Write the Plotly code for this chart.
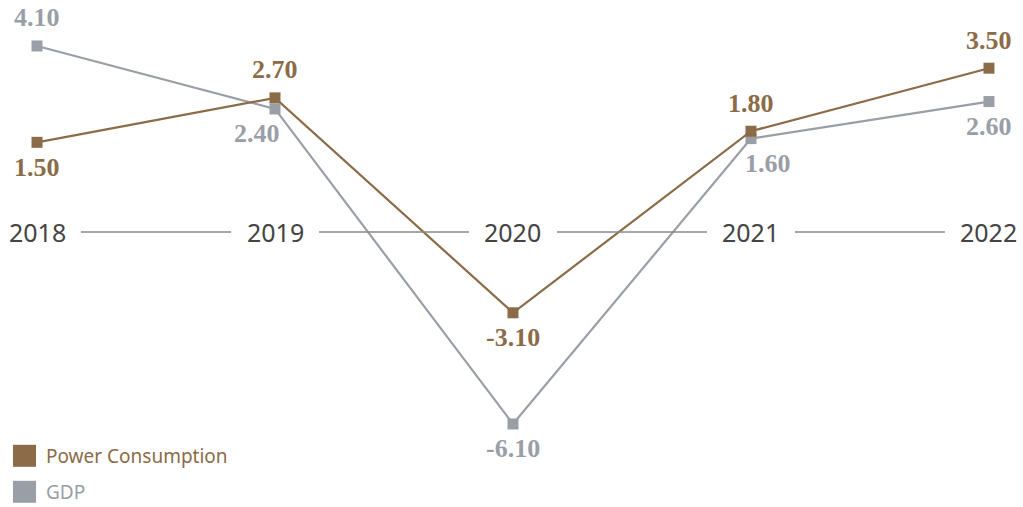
import plotly.graph_objects as go

years = ["2018", "2019", "2020", "2021", "2022"]
power = [1.50, 2.70, -3.10, 1.80, 3.50]
gdp = [4.10, 2.40, -6.10, 1.60, 2.60]

BROWN = "#8b6b48"
GRAY = "#9a9ea7"
AXIS_Y = -0.92  # height of the year row

# label placement per point: (xshift, yshift) in px
power_off = [(0, -25), (0, 28), (0, -25), (0, 28), (0, 28)]
gdp_off = [(0, 28), (-18, -25), (0, -25), (17, -25), (0, -25)]

xi = list(range(len(years)))

fig = go.Figure()
fig.add_trace(go.Scatter(
    x=xi, y=gdp, mode="lines+markers", name="GDP",
    line=dict(color=GRAY, width=2.2),
    marker=dict(symbol="square", size=11, color=GRAY),
    hoverinfo="skip",
))
fig.add_trace(go.Scatter(
    x=xi, y=power, mode="lines+markers", name="Power Consumption",
    line=dict(color=BROWN, width=2.2),
    marker=dict(symbol="square", size=11, color=BROWN),
    hoverinfo="skip",
))

annotations = []
for series, offs, col in ((power, power_off, BROWN), (gdp, gdp_off, GRAY)):
    for i, (v, (dx, dy)) in enumerate(zip(series, offs)):
        annotations.append(dict(
            x=i, y=v, xref="x", yref="y", text=f"{v:.2f}", showarrow=False,
            xshift=dx, yshift=dy,
            font=dict(family="Liberation Serif", size=26, color=col, weight="bold"),
        ))

# year labels along the category row
for i, yr in enumerate(years):
    annotations.append(dict(
        x=i, y=AXIS_Y, xref="x", yref="y", text=yr, showarrow=False,
        font=dict(family="Noto Sans", size=25, color="#444444"),
    ))

shapes = []
# connecting rules between the year labels
for i in range(len(years) - 1):
    shapes.append(dict(
        type="line", xref="x", yref="y",
        x0=i + 0.185, x1=i + 0.815, y0=AXIS_Y, y1=AXIS_Y,
        line=dict(color="#8a8a8a", width=1.5),
    ))

# legend
legend_items = [("Power Consumption", BROWN, 0.101), ("GDP", GRAY, 0.030)]
for name, col, yc in legend_items:
    shapes.append(dict(
        type="rect", xref="paper", yref="paper",
        x0=13 / 1023, x1=36 / 1023, y0=yc - 11 / 507, y1=yc + 11 / 507,
        fillcolor=col, line=dict(width=0),
    ))
    annotations.append(dict(
        x=44 / 1023, y=yc, xref="paper", yref="paper", text=name,
        showarrow=False, xanchor="left", yanchor="middle",
        font=dict(family="Noto Sans", size=19, color=col),
    ))

fig.update_layout(
    width=1023, height=507,
    margin=dict(l=0, r=0, t=0, b=0),
    paper_bgcolor="white", plot_bgcolor="white",
    showlegend=False,
    xaxis=dict(range=[-0.1555, 4.143], visible=False, fixedrange=True),
    yaxis=dict(range=[-8.34, 5.34], visible=False, fixedrange=True),
    annotations=annotations,
    shapes=shapes,
)

fig.write_html("out.html")
